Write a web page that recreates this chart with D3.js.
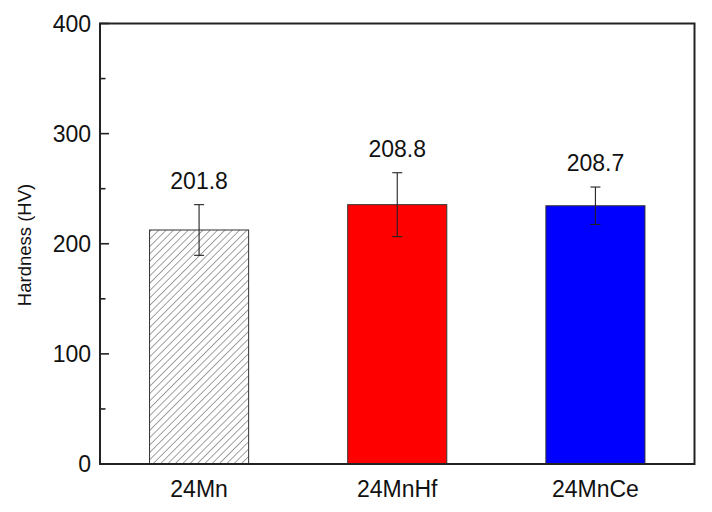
<!DOCTYPE html>
<html><head><meta charset="utf-8">
<script src="https://cdn.jsdelivr.net/npm/d3@7"></script>
<style>body{margin:0;background:#fff}svg{display:block}text{font-family:"Liberation Sans",Arial,sans-serif;fill:#111}</style>
</head><body><svg id="c" width="712" height="512"></svg>
<script>
const categories = ["24Mn", "24MnHf", "24MnCe"];
const hardness = [212.5, 235.5, 234.5];
const errors = [23, 29, 17];
const valueLabels = ["201.8", "208.8", "208.7"];
const fills = ["hatch", "#ff0000", "#0000ff"];
const yTicks = [0, 100, 200, 300, 400];
const yMinorTicks = [50, 150, 250, 350];

const svg = d3.select("#c");
const m = {l: 100, r: 712 - 694.5, t: 23.5, b: 512 - 464};
const W = 712 - m.l - m.r, H = 512 - m.t - m.b;

const defs = svg.append("defs");
const pat = defs.append("pattern").attr("id", "hatch").attr("patternUnits", "userSpaceOnUse")
  .attr("width", 5.2).attr("height", 5.2).attr("patternTransform", "rotate(45)");
pat.append("rect").attr("width", 5.2).attr("height", 5.2).attr("fill", "#fff");
pat.append("line").attr("x1", 0).attr("y1", 0).attr("x2", 0).attr("y2", 5.2)
  .attr("stroke", "#444").attr("stroke-width", 1);

const g = svg.append("g").attr("transform", `translate(${m.l},${m.t})`);
const x = d3.scaleBand().domain(categories).range([0, W]).paddingInner(0.5).paddingOuter(0.25);
const y = d3.scaleLinear().domain([0, 400]).range([H, 0]);

const data = categories.map((c, i) => ({c, v: hardness[i], e: errors[i], lab: valueLabels[i], f: fills[i]}));

g.selectAll("rect.bar").data(data).join("rect").attr("class", "bar")
  .attr("x", d => x(d.c)).attr("width", x.bandwidth())
  .attr("y", d => y(d.v)).attr("height", d => H - y(d.v))
  .attr("fill", d => d.f === "hatch" ? "url(#hatch)" : d.f)
  .attr("stroke", "#333").attr("stroke-width", 1);

const eb = g.selectAll("g.err").data(data).join("g").attr("class", "err")
  .attr("stroke", "#222").attr("stroke-width", 1.1);
eb.append("line").attr("x1", d => x(d.c) + x.bandwidth()/2).attr("x2", d => x(d.c) + x.bandwidth()/2)
  .attr("y1", d => y(d.v + d.e)).attr("y2", d => y(d.v - d.e));
eb.append("line").attr("x1", d => x(d.c) + x.bandwidth()/2 - 5).attr("x2", d => x(d.c) + x.bandwidth()/2 + 5)
  .attr("y1", d => y(d.v + d.e)).attr("y2", d => y(d.v + d.e));
eb.append("line").attr("x1", d => x(d.c) + x.bandwidth()/2 - 5).attr("x2", d => x(d.c) + x.bandwidth()/2 + 5)
  .attr("y1", d => y(d.v - d.e)).attr("y2", d => y(d.v - d.e));

g.selectAll("text.val").data(data).join("text").attr("class", "val")
  .attr("x", d => x(d.c) + x.bandwidth()/2).attr("y", d => y(d.v + d.e) - 16)
  .attr("text-anchor", "middle").attr("font-size", 23).text(d => d.lab);

// y axis ticks (inward)
const yAxis = g.append("g");
yAxis.selectAll("line.maj").data(yTicks).join("line").attr("x1", 0).attr("x2", 9)
  .attr("y1", d => y(d)).attr("y2", d => y(d)).attr("stroke", "#222").attr("stroke-width", 1.6);
yAxis.selectAll("line.min").data(yMinorTicks).join("line").attr("x1", 0).attr("x2", 5.5)
  .attr("y1", d => y(d)).attr("y2", d => y(d)).attr("stroke", "#222").attr("stroke-width", 1.6);
yAxis.selectAll("text").data(yTicks).join("text").attr("x", -9).attr("y", d => y(d)).attr("dy", "0.36em")
  .attr("text-anchor", "end").attr("font-size", 23).text(d => d);

// x labels
g.selectAll("text.xl").data(categories).join("text").attr("class", "xl")
  .attr("x", d => x(d) + x.bandwidth()/2).attr("y", H + 33)
  .attr("text-anchor", "middle").attr("font-size", 23).text(d => d);

// frame
g.append("rect").attr("x", 0).attr("y", 0).attr("width", W).attr("height", H)
  .attr("fill", "none").attr("stroke", "#222").attr("stroke-width", 2);

svg.append("text").attr("transform", `translate(31,245) rotate(-90)`)
  .attr("text-anchor", "middle").attr("font-size", 18.5).text("Hardness (HV)");
</script></body></html>
